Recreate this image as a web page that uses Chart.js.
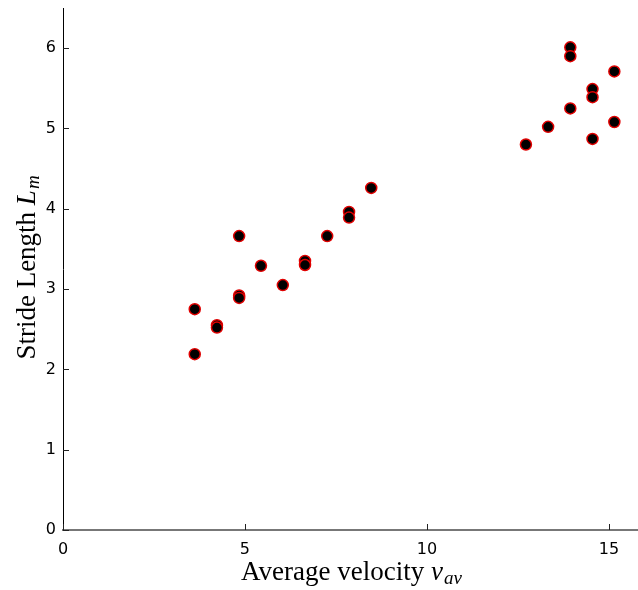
<!DOCTYPE html>
<html>
<head>
<meta charset="utf-8">
<title>Stride length vs. average velocity</title>
<script src="https://cdn.jsdelivr.net/npm/chart.js@4/dist/chart.umd.min.js"></script>
<style>
  html, body { margin: 0; padding: 0; background: #fff; overflow: hidden; }
  canvas { display: block; }
</style>
</head>
<body>
<canvas id="c" width="638" height="590" style="width:638px;height:590px"></canvas>
<script>
// Measured trials: average velocity and stride length
const velocity = [
  3.62, 3.62,
  4.23, 4.23,
  4.84, 4.84, 4.84,
  5.44,
  6.04,
  6.65, 6.65,
  7.26,
  7.86, 7.86,
  8.47,
  12.72,
  13.33,
  13.94, 13.94, 13.94,
  14.55, 14.55, 14.55,
  15.15, 15.15
];
const strideLength = [
  2.75, 2.19,
  2.55, 2.52,
  3.66, 2.92, 2.89,
  3.29,
  3.05,
  3.35, 3.30,
  3.66,
  3.96, 3.89,
  4.26,
  4.80,
  5.02,
  6.01, 5.90, 5.25,
  5.49, 5.39, 4.87,
  5.71, 5.08
];
const xTickValues = [0, 5, 10, 15];
const yTickValues = [0, 1, 2, 3, 4, 5, 6];

const points = velocity.map((v, i) => ({ x: v, y: strideLength[i] }));

const serif = '"Liberation Serif", "DejaVu Serif", serif';

// Draws "main" followed by an italic symbol with an italic subscript,
// centred on (cx, baseline) in the current transform.
function drawMathLabel(ctx, main, sym, sub, cx, baseline) {
  ctx.font = '27px ' + serif;
  const wMain = ctx.measureText(main).width;
  ctx.font = 'italic 27px ' + serif;
  const wSym = ctx.measureText(sym).width;
  ctx.font = 'italic 19px ' + serif;
  const wSub = ctx.measureText(sub).width;
  const x0 = cx - (wMain + wSym + wSub) / 2;
  ctx.font = '27px ' + serif;
  ctx.fillText(main, x0, baseline);
  ctx.font = 'italic 27px ' + serif;
  ctx.fillText(sym, x0 + wMain, baseline);
  ctx.font = 'italic 19px ' + serif;
  ctx.fillText(sub, x0 + wMain + wSym + 1, baseline + 4);
}

// Let the horizontal axis run all the way to the right edge of the canvas
const fullWidthX = {
  id: 'fullWidthX',
  afterLayout(chart) {
    const xs = chart.scales.x;
    xs.right = chart.width;
    xs.width = xs.right - xs.left;
    chart.chartArea.right = chart.width;
    chart.chartArea.width = chart.chartArea.right - chart.chartArea.left;
    xs.configure();
  }
};

// Inward tick marks plus the math-styled axis titles
const axisDecor = {
  id: 'axisDecor',
  afterDraw(chart) {
    const ctx = chart.ctx;
    const xs = chart.scales.x, ys = chart.scales.y;
    const area = chart.chartArea;
    ctx.save();
    ctx.strokeStyle = '#222';
    ctx.lineWidth = 1;
    ctx.beginPath();
    yTickValues.forEach(t => {
      const py = Math.round(ys.getPixelForValue(t)) + 0.5;
      ctx.moveTo(area.left, py);
      ctx.lineTo(area.left + 6, py);
    });
    xTickValues.forEach(t => {
      const px = Math.round(xs.getPixelForValue(t)) + 0.5;
      ctx.moveTo(px, area.bottom);
      ctx.lineTo(px, area.bottom - 6);
    });
    ctx.stroke();

    ctx.fillStyle = '#000';
    ctx.textBaseline = 'alphabetic';
    drawMathLabel(ctx, 'Average velocity ', 'v', 'av', 351, 580);

    ctx.translate(35, 268);
    ctx.rotate(-Math.PI / 2);
    drawMathLabel(ctx, 'Stride Length ', 'L', 'm', 0, 0);
    ctx.restore();
  }
};

new Chart(document.getElementById('c'), {
  type: 'scatter',
  data: {
    datasets: [{
      data: points,
      backgroundColor: '#000',
      borderColor: '#e00000',
      borderWidth: 1.5,
      pointRadius: 5.5,
      pointHoverRadius: 5.5
    }]
  },
  options: {
    responsive: false,
    animation: false,
    events: [],
    layout: { padding: { top: 8, right: 0, bottom: 0, left: 0 } },
    plugins: { legend: { display: false }, tooltip: { enabled: false } },
    scales: {
      x: {
        type: 'linear',
        min: 0,
        max: 15.8,
        afterBuildTicks: s => { s.ticks = xTickValues.map(v => ({ value: v })); },
        afterFit: s => { s.height = 60; s.paddingLeft = 0; s.paddingRight = 0; },
        grid: { display: false, drawTicks: false },
        border: { display: true, color: '#777', width: 2 },
        ticks: {
          padding: 10,
          color: '#000',
          font: { family: '"DejaVu Sans", sans-serif', size: 16 },
          maxRotation: 0
        }
      },
      y: {
        type: 'linear',
        min: 0,
        max: 6.5,
        afterBuildTicks: s => { s.ticks = yTickValues.map(v => ({ value: v })); },
        afterFit: s => { s.width = 63; s.paddingTop = 0; s.paddingBottom = 0; },
        grid: { display: false, drawTicks: false },
        border: { display: true, color: '#000', width: 1 },
        ticks: {
          padding: 7,
          color: '#000',
          font: { family: '"DejaVu Sans", sans-serif', size: 16 }
        }
      }
    }
  },
  plugins: [fullWidthX, axisDecor]
});
</script>
</body>
</html>
